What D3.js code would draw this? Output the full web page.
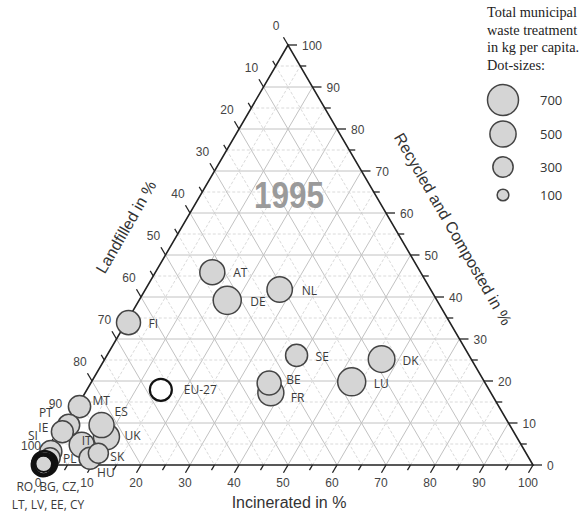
<!DOCTYPE html>
<html><head><meta charset="utf-8">
<script src="https://cdn.jsdelivr.net/npm/d3@7"></script>
<style>
html,body{margin:0;padding:0;background:#fff;}
svg{display:block;}
</style></head>
<body>
<svg id="chart" width="584" height="514"></svg>
<script>
// ---------- DATA (shares in %, waste in kg per capita) ----------
const countries   = ["AT","DE","NL","SE","DK","LU","BE","FR","FI","MT","PT","IE","ES","UK","IT","SK","HU","SI","PL"];
const landfilled  = [42.5, 42.8, 30.8, 35.2, 18.3, 27.1, 44.1, 44.9, 65.6, 85.6, 90.0, 92.1, 83.3, 83.7, 89.7, 87.3, 89.6, 96.8, 97.7];
const incinerated = [11.6, 18.0, 27.4, 38.7, 56.5, 53.1, 36.4, 37.9,  0.5,  0.5,  0.5,  0.0,  7.2,  9.6,  5.5,  9.9,  8.8,  0.0,  0.6];
const recycled    = [45.9, 39.2, 41.8, 26.1, 25.2, 19.8, 19.5, 17.2, 33.9, 13.9,  9.5,  7.9,  9.5,  6.7,  4.8,  2.8,  1.6,  3.2,  1.7];
const wasteKg     = [456, 573, 470, 353, 517, 573, 420, 494, 420, 360, 350, 350, 456, 494, 456, 292, 353, 353, 292];

// EU-27 average (open circle)
const euLabel = "EU-27";
const euShares = [67.0, 15.1, 17.9];   // landfilled, incinerated, recycled
const euWaste = 353;

// countries at ~100 % landfill (black rings)
const landfillOnly      = ["RO","BG","CZ","LT","LV","EE","CY"];
const landfillOnlyL     = [100, 99.6, 99.5, 100, 99.7, 100, 99.4];
const landfillOnlyI     = [0, 0, 0.3, 0, 0, 0, 0.2];
const landfillOnlyR     = [0, 0.4, 0.2, 0, 0.3, 0, 0.4];
const landfillOnlyWaste = [300, 420, 330, 260, 200, 380, 450];
const landfillOnlyText  = ["RO, BG, CZ,", "LT, LV, EE, CY"];

const tickValues   = [0,10,20,30,40,50,60,70,80,90,100];
const legendValues = [700, 500, 300, 100];
const legendTitle  = ["Total municipal", "waste treatment", "in kg per capita.", "Dot-sizes:"];
const yearLabel = "1995";

// ---------- LAYOUT ----------
const svg = d3.select("#chart");
const x0 = 43, side = 490, yBase = 465, yTop = 45;
const lenScale = d3.scaleLinear().domain([0,100]).range([0, side]);
const yScale   = d3.scaleLinear().domain([0,100]).range([yBase, yTop]);
const rScale   = d3.scaleSqrt().domain([0,700]).range([0,15.5]);

// ternary -> pixel (L landfilled, I incinerated, R recycled)
function pt(L, I, R){
  return [x0 + lenScale(I) + lenScale(R)/2, yScale(R)];
}

const font = "'Liberation Sans', Arial, sans-serif";
const lblFont = "'Open Sans', 'DejaVu Sans', sans-serif";

// ---------- GRID ----------
const grid = svg.append("g");
const steps = d3.range(5, 100, 5);
steps.forEach(v => {
  const major = v % 10 === 0;
  const segs = [
    [pt(100-v,0,v), pt(0,100-v,v)],      // constant recycled
    [pt(100-v,v,0), pt(0,v,100-v)],      // constant incinerated
    [pt(v,0,100-v), pt(v,100-v,0)]       // constant landfilled
  ];
  segs.forEach(s => {
    grid.append("line")
      .attr("x1", s[0][0]).attr("y1", s[0][1])
      .attr("x2", s[1][0]).attr("y2", s[1][1])
      .attr("stroke", major ? "#c2c2c2" : "#dadada")
      .attr("stroke-width", 1)
      .attr("stroke-dasharray", major ? null : "3,2");
  });
});

// ---------- AXES ----------
const axes = svg.append("g");
const A = pt(0,0,100), B = pt(100,0,0), C = pt(0,100,0);
axes.append("path")
  .attr("d", `M${A[0]},${A[1]}L${B[0]},${B[1]}L${C[0]},${C[1]}Z`)
  .attr("fill","none").attr("stroke","#222").attr("stroke-width",1.6);

const dl = Math.hypot(side/2, yBase-yTop);
const ux = (side/2)/dl, uy = (yBase-yTop)/dl;
d3.range(0, 101, 5).forEach(v => {
  const len = v % 10 === 0 ? 9 : 6;
  // bottom (incinerated) ticks: down-left
  let p = pt(100-v, v, 0);
  axes.append("line").attr("x1",p[0]).attr("y1",p[1])
    .attr("x2",p[0]-ux*len).attr("y2",p[1]+uy*len)
    .attr("stroke","#222").attr("stroke-width",1.3);
  // right (recycled) ticks: horizontal right
  p = pt(0, 100-v, v);
  axes.append("line").attr("x1",p[0]).attr("y1",p[1])
    .attr("x2",p[0]+len).attr("y2",p[1])
    .attr("stroke","#222").attr("stroke-width",1.3);
  // left (landfilled) ticks: up-left
  p = pt(v, 0, 100-v);
  axes.append("line").attr("x1",p[0]).attr("y1",p[1])
    .attr("x2",p[0]-ux*len).attr("y2",p[1]-uy*len)
    .attr("stroke","#222").attr("stroke-width",1.3);
});

const tl = svg.append("g").attr("font-family", font).attr("font-size", 12).attr("fill","#444");
tickValues.forEach(v => {
  let p = pt(100-v, v, 0);
  tl.append("text").attr("x", p[0]-5).attr("y", p[1]+22).attr("text-anchor","middle").text(v);
  p = pt(0, 100-v, v);
  tl.append("text").attr("x", p[0]+14).attr("y", p[1]+4.5).attr("text-anchor","start").text(v);
  p = pt(v, 0, 100-v);
  tl.append("text").attr("x", p[0]-12).attr("y", p[1]-15).attr("text-anchor","middle").text(v);
});

// axis titles
const tt = svg.append("g").attr("font-family", font).attr("font-size", 16).attr("fill","#333");
tt.append("text").attr("x", 289).attr("y", 508).attr("text-anchor","middle").text("Incinerated in %");
tt.append("text").attr("text-anchor","middle")
  .attr("transform","translate(126,227) rotate(-60)").attr("dy","0.35em").text("Landfilled in %");
tt.append("text").attr("text-anchor","middle")
  .attr("transform","translate(453,229) rotate(60)").attr("dy","0.35em").text("Recycled and Composted in %");

// year
svg.append("text").attr("x", 289).attr("y", 208).attr("text-anchor","middle")
  .attr("font-family", font).attr("font-weight","bold").attr("font-size", 36)
  .attr("textLength", 70).attr("lengthAdjust","spacingAndGlyphs")
  .attr("fill","#9a9a9a").text(yearLabel);

// ---------- POINTS ----------
const pts = svg.append("g");
const recs = countries.map((c,i) => ({c, L:landfilled[i], I:incinerated[i], R:recycled[i], w:wasteKg[i]}));
recs.slice().sort((a,b)=>b.w-a.w).forEach(d => {
  const p = pt(d.L, d.I, d.R);
  pts.append("circle").attr("cx",p[0]).attr("cy",p[1]).attr("r",rScale(d.w))
    .attr("fill","#d5d5d5").attr("stroke","#444").attr("stroke-width",1.5);
});

// black rings (100 % landfill)
landfillOnly.forEach((c,i) => {
  const p = pt(landfillOnlyL[i], landfillOnlyI[i], landfillOnlyR[i]);
  pts.append("circle").attr("cx",p[0]).attr("cy",p[1]).attr("r",rScale(landfillOnlyWaste[i]))
    .attr("fill", i===0 ? "#d5d5d5" : "none").attr("stroke","#111").attr("stroke-width",2);
});

// EU-27
const pe = pt(euShares[0], euShares[1], euShares[2]);
pts.append("circle").attr("cx",pe[0]).attr("cy",pe[1]).attr("r",rScale(euWaste))
  .attr("fill","#fff").attr("stroke","#111").attr("stroke-width",2.2);

// ---------- LABELS ----------
// label offsets from the dot centre (layout only)
const labelOffset = {
  AT:[21,5], DE:[23,6], NL:[22,6], SE:[19,6], DK:[21,6], LU:[22,6],
  BE:[17,1], FR:[20,9], FI:[20,5],
  MT:[13,-2], PT:[-16,-8], IE:[-14,0], ES:[13,-9], UK:[18,3], IT:[0,0],
  SK:[12,8], HU:[7,19], SI:[-13,-12], PL:[13,5]
};
const lab = svg.append("g").attr("font-family", lblFont).attr("font-size", 12).attr("fill","#3a3a3a");
recs.forEach(d => {
  const p = pt(d.L, d.I, d.R);
  const o = labelOffset[d.c];
  lab.append("text").attr("x", p[0]+o[0]).attr("y", p[1]+o[1])
    .attr("text-anchor", o[0] < 0 ? "end" : "start").text(d.c);
});
lab.append("text").attr("x", pe[0]+23).attr("y", pe[1]+4).text(euLabel);
landfillOnlyText.forEach((t,i) => {
  lab.append("text").attr("x", 48).attr("y", 491 + i*18).attr("text-anchor","middle").text(t);
});

// ---------- LEGEND ----------
const lg = svg.append("g");
legendTitle.forEach((t,i) => {
  lg.append("text").attr("x", 487).attr("y", 17 + i*17.5)
    .attr("font-family","'Liberation Serif','Times New Roman',serif").attr("font-size", 14.3)
    .attr("fill","#222").text(t);
});
const legY = [100, 134, 167, 195];
legendValues.forEach((v,i) => {
  lg.append("circle").attr("cx", 503).attr("cy", legY[i]).attr("r", rScale(v))
    .attr("fill","#d5d5d5").attr("stroke","#444").attr("stroke-width",1.5);
  lg.append("text").attr("x", 540).attr("y", legY[i]+4.5)
    .attr("font-family", lblFont).attr("font-size", 13).attr("fill","#333").text(v);
});
</script>
</body></html>
